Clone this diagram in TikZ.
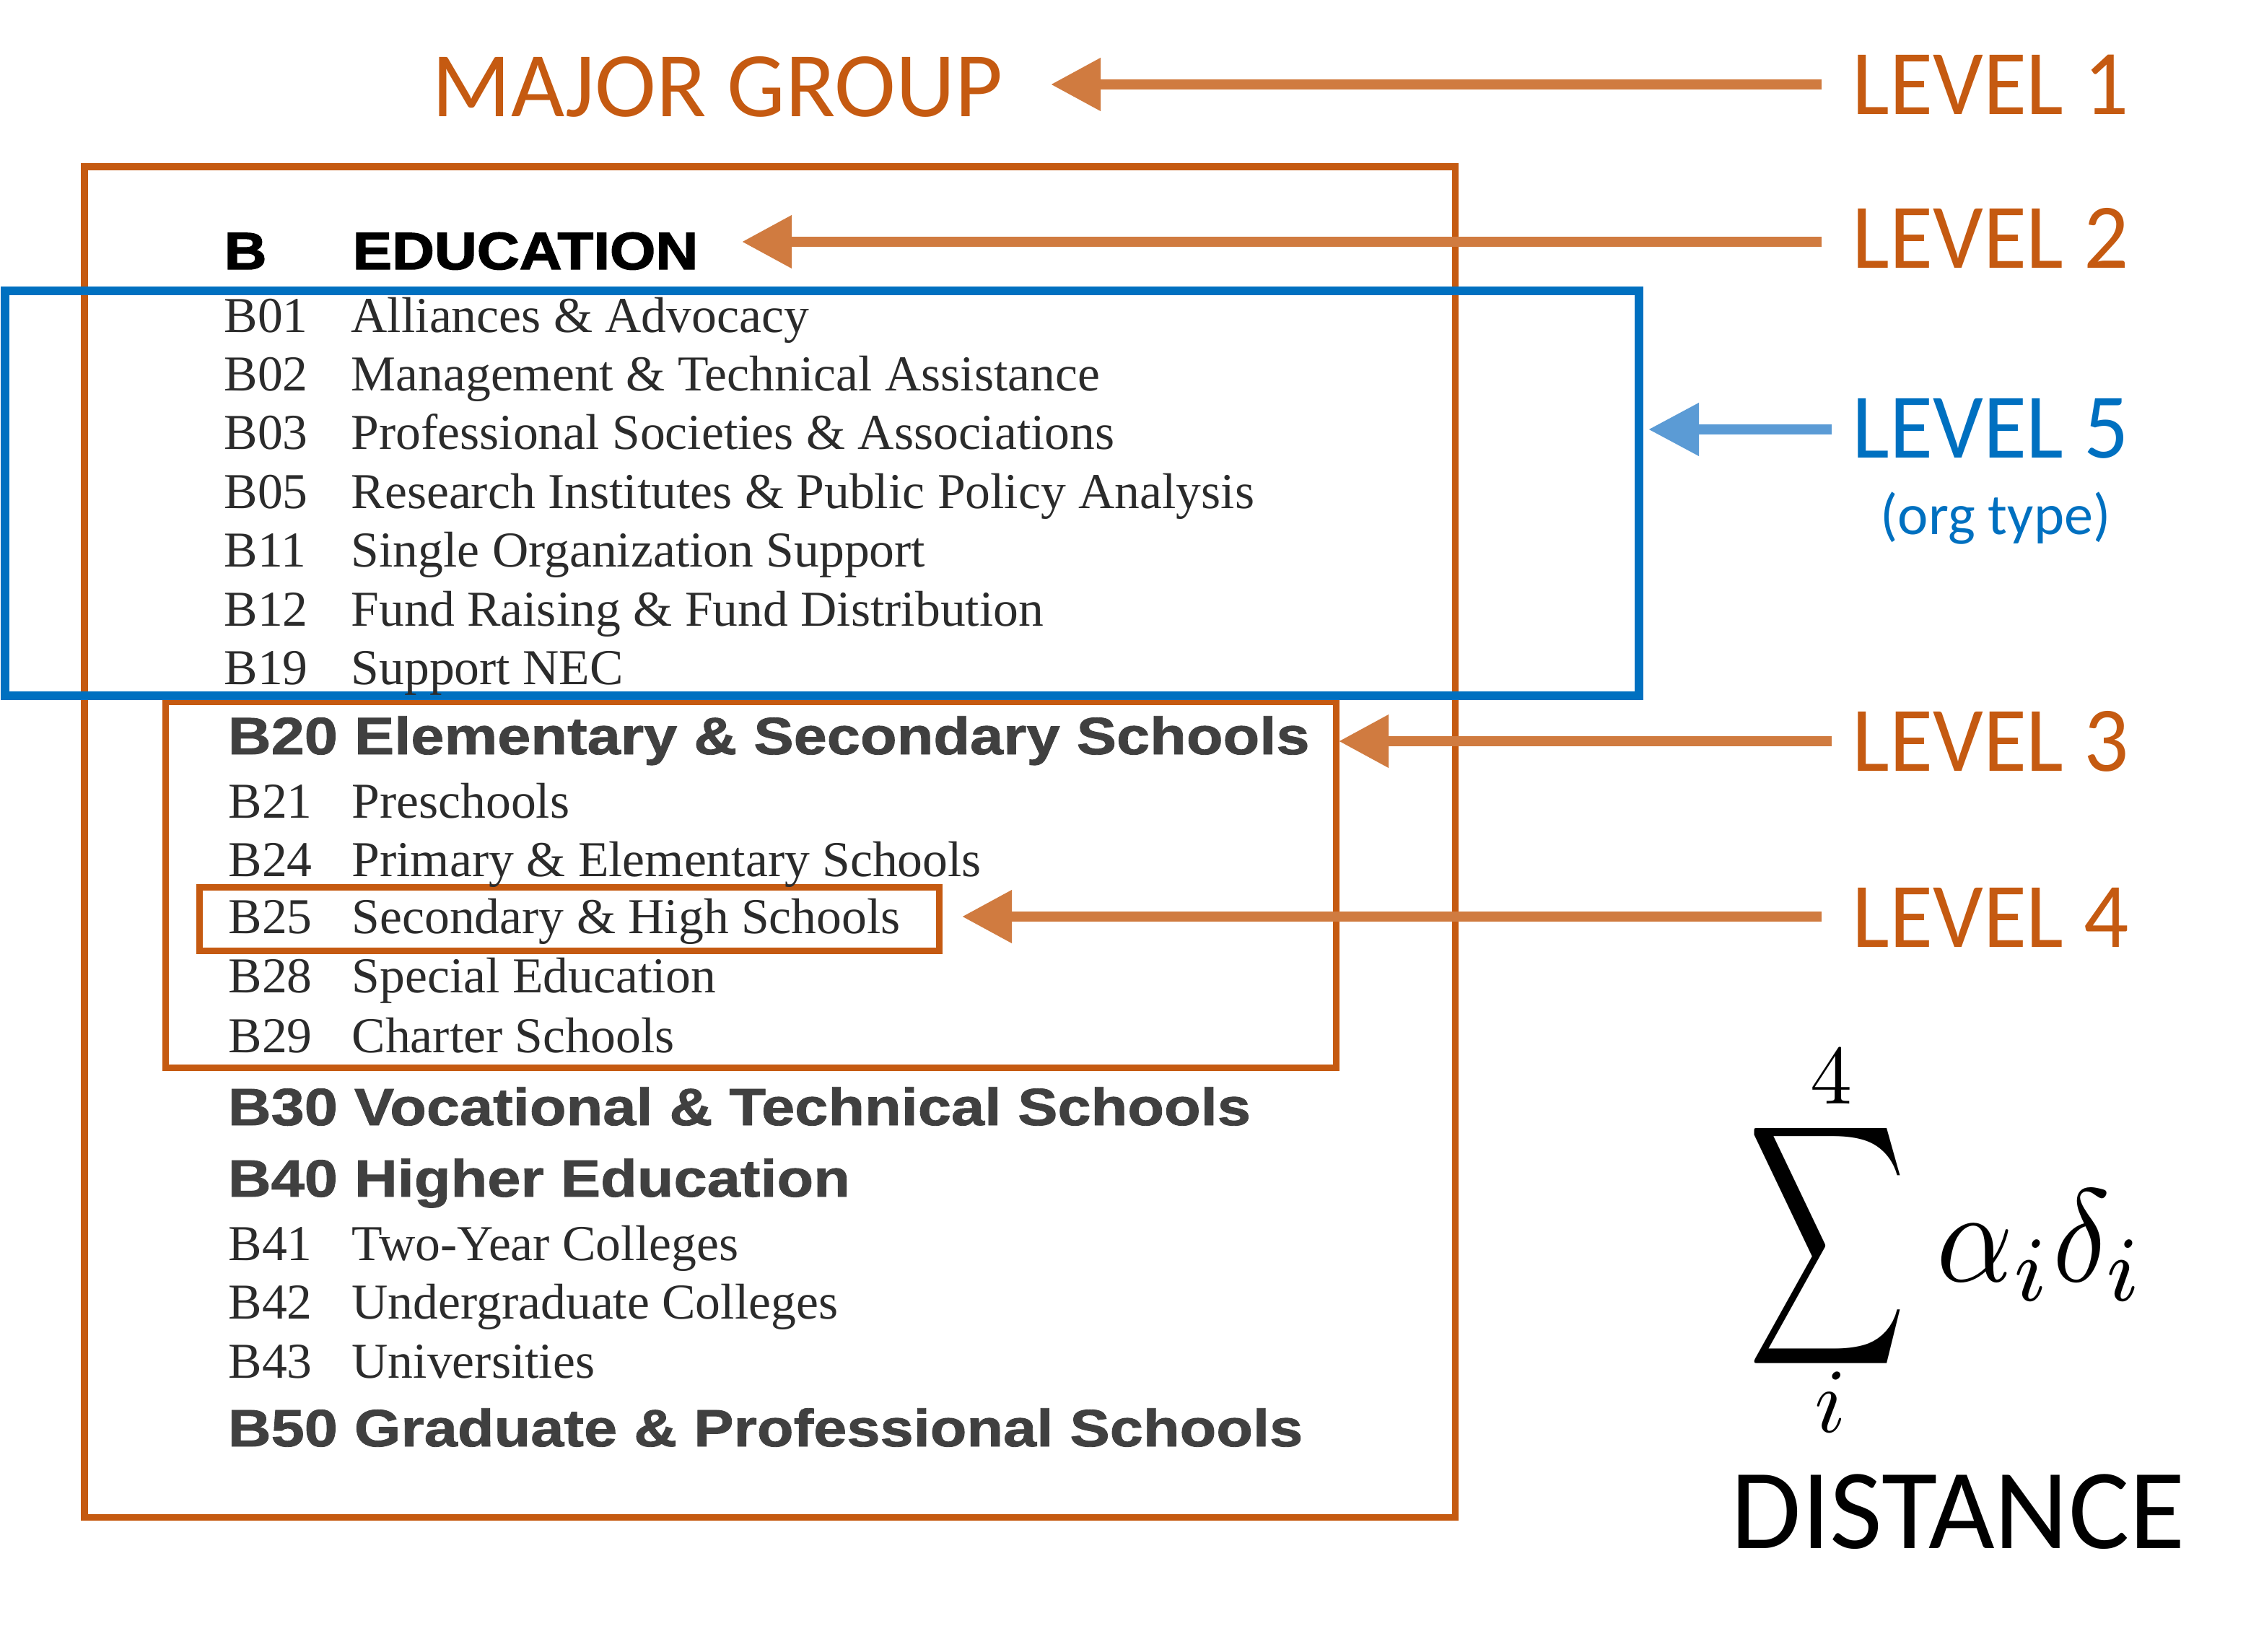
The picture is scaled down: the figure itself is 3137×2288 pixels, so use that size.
\documentclass[tikz,border=0pt]{standalone}
\usepackage{fontspec}
\usepackage{graphicx}
\usetikzlibrary{arrows.meta}
\setmainfont{Liberation Serif}
\newfontfamily\lblfont[FakeStretch=0.96]{Carlito}
\newfontfamily\calfont{Carlito}
\newfontfamily\headfont[FakeStretch=1.14,FakeBold=1.2]{Liberation Sans}
\newfontfamily\topheadfont[FakeStretch=1.12,FakeBold=2]{Liberation Sans}
\definecolor{boxorange}{HTML}{C55A11}
\definecolor{arrorange}{HTML}{D07B40}
\definecolor{boxblue}{HTML}{0070C0}
\definecolor{arrblue}{HTML}{5B9BD5}
\definecolor{itemgrey}{HTML}{2B2B2B}
\definecolor{headgrey}{HTML}{404040}
\begin{document}
\begin{tikzpicture}[x=0.01cm,y=-0.01cm,
  lbl/.style={inner sep=0,anchor=base west,text=boxorange,font=\lblfont\fontsize{36.4}{40}\selectfont},
  item/.style={inner sep=0,anchor=base west,text=itemgrey,font=\fontsize{19.8}{22}\selectfont},
  head/.style={inner sep=0,anchor=base west,text=headgrey,font=\headfont\bfseries\fontsize{20.7}{24}\selectfont},
  obox/.style={draw=boxorange,line width=0.09cm},
  bbox/.style={draw=boxblue,line width=0.125cm},
  arr/.style={draw=arrorange,line width=0.14cm,-{Triangle[length=0.69cm,width=0.70cm]}},
  barr/.style={draw=arrblue,line width=0.14cm,-{Triangle[length=0.70cm,width=0.70cm]}},
  mathnode/.style={inner sep=0,text=black}]
\useasboundingbox (0,0) rectangle (3137,2288);

% boxes
\draw[obox] (117,231) rectangle (2016,2102);
\draw[obox] (229,972) rectangle (1851,1479);
\draw[obox] (276,1229) rectangle (1301,1317);
\draw[bbox] (7,403) rectangle (2271,964);

% major group
\node[lbl,font=\calfont\fontsize{36.4}{40}\selectfont] (major) at (598,162) {MAJOR GROUP};

% B EDUCATION
\node[head,text=black,font=\topheadfont\bfseries\fontsize{20.7}{24}\selectfont] (bcode) at (310,373) {B};
\node[head,text=black,font=\topheadfont\bfseries\fontsize{20.7}{24}\selectfont] (bedu) at (488,373) {EDUCATION};

% level 5 items
\foreach \yy/\cc/\tt [count=\k] in {
  460/B01/Alliances \& Advocacy,
  541/B02/Management \& Technical Assistance,
  622/B03/Professional Societies \& Associations,
  704/B05/Research Institutes \& Public Policy Analysis,
  785/B11/Single Organization Support,
  867/B12/Fund Raising \& Fund Distribution,
  948/B19/Support NEC}{
  \node[item] (tcode\k) at (310,\yy) {\cc};
  \node[item] (tdesc\k) at (486,\yy) {\tt};
}

% headings
\node[head] (h20) at (315,1045) {B20 Elementary \& Secondary Schools};
\node[head] (h30) at (315,1559) {B30 Vocational \& Technical Schools};
\node[head] (h40) at (315,1658) {B40 Higher Education};
\node[head] (h50) at (315,2004) {B50 Graduate \& Professional Schools};

\foreach \yy/\cc/\tt [count=\k] in {
  1133/B21/Preschools,
  1214/B24/Primary \& Elementary Schools,
  1293/B25/Secondary \& High Schools,
  1375/B28/Special Education,
  1458/B29/Charter Schools,
  1746/B41/Two-Year Colleges,
  1827/B42/Undergraduate Colleges,
  1909/B43/Universities}{
  \node[item] (lcode\k) at (316,\yy) {\cc};
  \node[item] (ldesc\k) at (487,\yy) {\tt};
}

% level labels
\node[lbl] (lv1) at (2566,159) {LEVEL 1};
\node[lbl] (lv2) at (2566,371) {LEVEL 2};
\node[lbl,text=boxblue] (lv5) at (2566,634) {LEVEL 5};
\node[inner sep=0,anchor=base,text=boxblue,font=\calfont\fontsize{22.8}{26}\selectfont] (org) at (2765,740) {(org type)};
\node[lbl] (lv3) at (2566,1068) {LEVEL 3};
\node[lbl] (lv4) at (2566,1312) {LEVEL 4};

% arrows
\coordinate (s1) at (2524,117);
\coordinate (t1) at (1456,117);
\coordinate (s2) at (2524,335);
\coordinate (t2) at (1028,335);
\coordinate (s5) at (2538,595);
\coordinate (t5) at (2284,595);
\coordinate (s3) at (2538,1027);
\coordinate (t3) at (1855,1027);
\coordinate (s4) at (2524,1270);
\coordinate (t4) at (1333,1270);
\draw[arr] (s1) -- (t1);
\draw[arr] (s2) -- (t2);
\draw[barr] (s5) -- (t5);
\draw[arr] (s3) -- (t3);
\draw[arr] (s4) -- (t4);

% formula
\node[mathnode] (sigma) at (2532,1726) {\resizebox*{2.19cm}{3.72cm}{$\displaystyle\sum$}};
\node[mathnode,anchor=base] (upper) at (2537,1529) {\scalebox{3.3}{$4$}};
\node[mathnode,anchor=base] (lower) at (2536,1984) {\scalebox{3.6}{$i$}};
\node[mathnode,anchor=base west] (terms) at (2683,1775) {\scalebox{4.7}[5.2]{$\alpha_i\delta_i$}};
\node[mathnode,anchor=base west,font=\calfont\fontsize{45}{50}\selectfont] (dist) at (2398,2145) {DISTANCE};
\end{tikzpicture}
\end{document}
